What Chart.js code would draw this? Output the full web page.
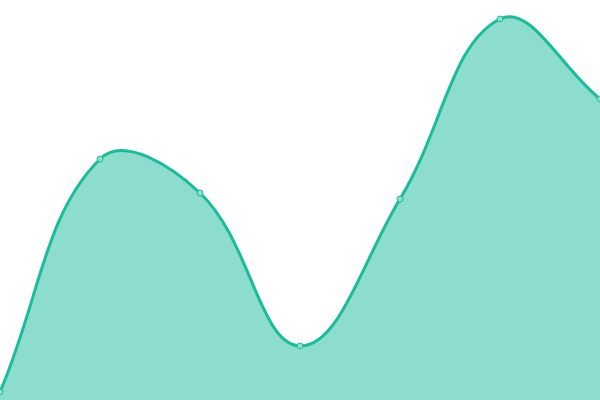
<!DOCTYPE html>
<html><head><meta charset="utf-8">
<script src="https://cdn.jsdelivr.net/npm/chart.js@4"></script>
<style>html,body{margin:0;padding:0;background:#fff}#wrap{width:600px;height:400px}</style>
</head><body><div id="wrap"><canvas id="c"></canvas></div>
<script>
const labels = ['A','B','C','D','E','F','G'];
const values = [2, 60.25, 51.75, 13.5, 50.25, 95.25, 75.25];
new Chart(document.getElementById('c'), {
  type: 'line',
  data: { labels: labels, datasets: [{
    data: values,
    fill: 'start',
    backgroundColor: 'rgba(26,188,156,0.5)',
    borderColor: 'rgb(26,188,156)',
    borderWidth: 3,
    tension: 0.4,
    pointRadius: 3,
    pointBackgroundColor: 'rgb(141,222,206)',
    pointBorderColor: 'rgb(26,188,156)',
    pointBorderWidth: 1
  }]},
  options: {
    responsive: true, maintainAspectRatio: false, animation: false,
    layout: { padding: 0, autoPadding: false },
    plugins: { legend: { display: false }, tooltip: { enabled: false } },
    scales: {
      x: { display: false },
      y: { display: false, min: 0, max: 100 }
    }
  }
});
</script></body></html>
